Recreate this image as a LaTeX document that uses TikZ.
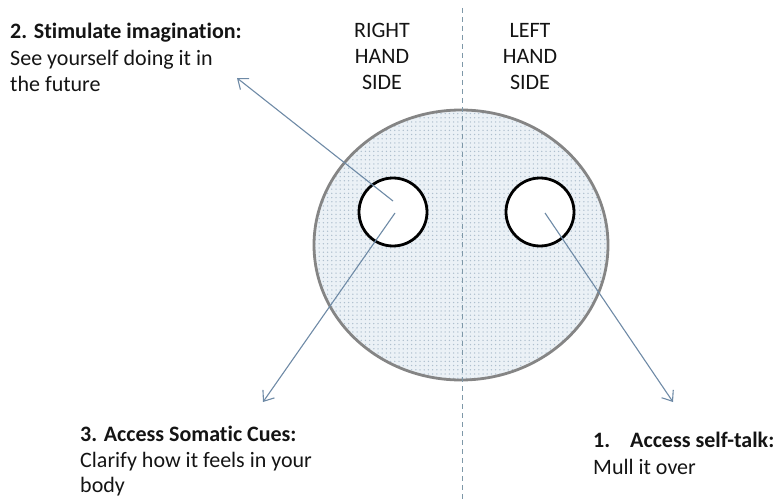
\documentclass[tikz,border=0pt]{standalone}
\usepackage{fontspec}
\setmainfont[Ligatures=NoCommon]{Carlito}
\usetikzlibrary{patterns.meta,arrows.meta}
\definecolor{arrowc}{HTML}{6E8AA6}
\definecolor{dashc}{HTML}{7E98A8}
\definecolor{ringc}{HTML}{858585}
\definecolor{fillc}{HTML}{EBF1F6}
\definecolor{dotc}{HTML}{AEBFCE}
\definecolor{textc}{HTML}{141414}
\tikzset{
  lbl/.style={align=left, anchor=north west, inner sep=0pt, text=textc, font=\fontsize{22}{26.5}\selectfont},
  hdr/.style={align=center, anchor=north, inner sep=0pt, text=textc, font=\fontsize{22}{26}\selectfont},
  eye/.style={draw=black, line width=2.8pt, fill=white},
  pointer/.style={draw=arrowc, line width=1.1pt, -{Straight Barb[length=9pt,width=14pt,line width=1.1pt]}},
}
\begin{document}
\begin{tikzpicture}[x=1pt,y=-1pt]
\useasboundingbox (0,0) rectangle (776,500);
% head
\fill[fillc] (461,245) ellipse [x radius=147, y radius=135];
\fill[pattern={Dots[distance=4.2pt,radius=0.75pt]}, pattern color=dotc] (461,245) ellipse [x radius=147, y radius=135];
\draw[ringc, line width=2.8pt] (461,245) ellipse [x radius=147, y radius=135];
% midline
\coordinate (mtop) at (462,8);
\coordinate (mbot) at (462,500);
\draw[dashc, line width=1pt, dash pattern=on 5pt off 4pt] (mtop) -- (mbot);
% eyes
\node[eye, circle, minimum size=68pt, inner sep=0pt] (leye) at (393,212) {};
\node[eye, circle, minimum size=68pt, inner sep=0pt] (reye) at (540,212) {};
% texts
\node[lbl] (t2) at (10,23) {\textbf{2. Stimulate imagination:}\\See yourself doing it in\\the future};
\node[hdr] (rhs) at (382,23) {RIGHT\\HAND\\SIDE};
\node[hdr] (lhs) at (530,23) {LEFT\\HAND\\SIDE};
\node[lbl, font=\fontsize{22}{25.5}\selectfont] (t3) at (80,426) {\textbf{3. Access Somatic Cues:}\\Clarify how it feels in your\\body};
\node[lbl] (t1) at (593,432) {\textbf{1.\hspace{20pt}Access self-talk:}\\Mull it over};
% arrows
\coordinate (s2) at (393,201);
\coordinate (e2) at (237,78);
\coordinate (s3) at (395,213);
\coordinate (e3) at (263,402);
\coordinate (s1) at (545,213);
\coordinate (e1) at (673,402);
\draw[pointer] (s2) -- (e2);
\draw[pointer] (s3) -- (e3);
\draw[pointer] (s1) -- (e1);
\end{tikzpicture}
\end{document}
